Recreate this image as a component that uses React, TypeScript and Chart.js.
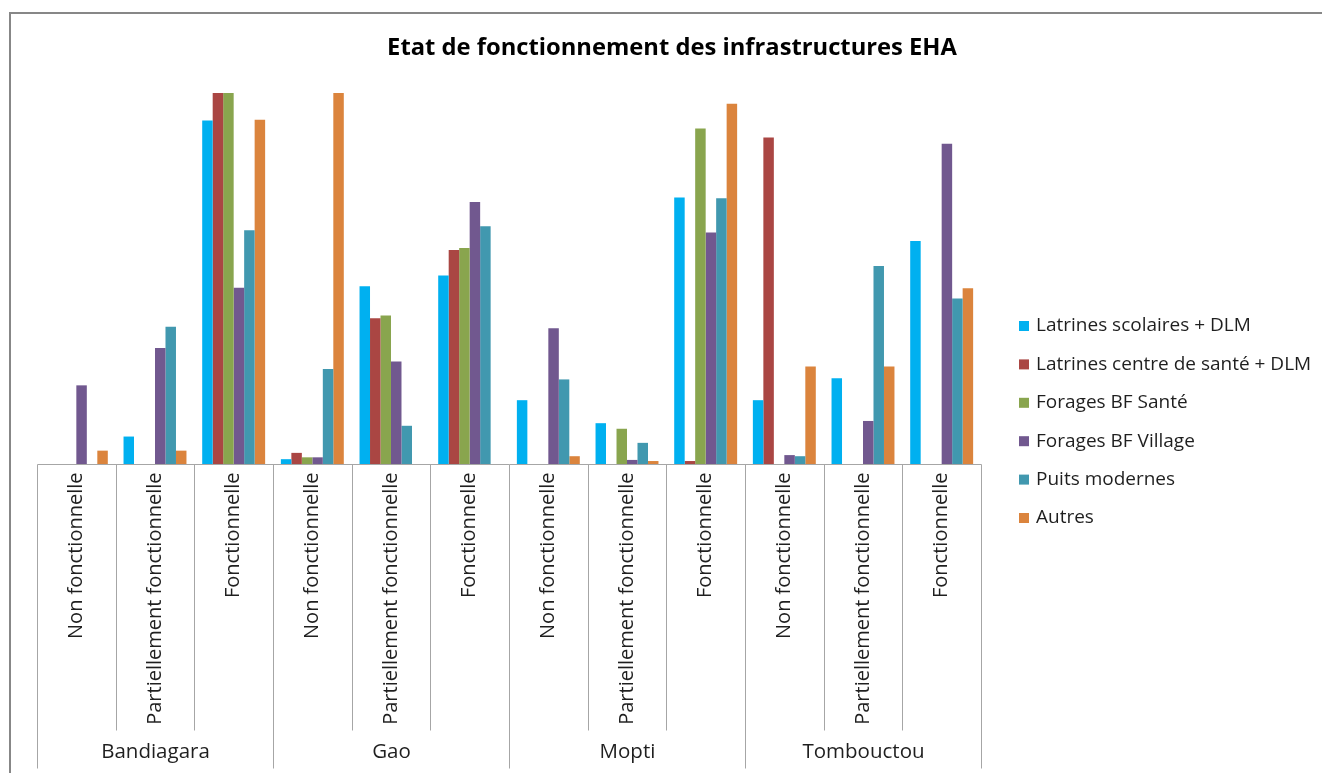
import React, { useEffect, useRef } from "react";
import { Chart, registerables } from "chart.js";

Chart.register(...registerables);

const regions = ["Bandiagara", "Gao", "Mopti", "Tombouctou"];
const statuses = ["Non fonctionnelle", "Partiellement fonctionnelle", "Fonctionnelle"];
const categories: string[] = regions.flatMap((r) => statuses.map((s) => `${r} - ${s}`));

const seriesNames = [
  "Latrines scolaires + DLM",
  "Latrines centre de santé + DLM",
  "Forages BF Santé",
  "Forages BF Village",
  "Puits modernes",
  "Autres",
];
const seriesColors = ["#00B0F0", "#AA4643", "#89A54E", "#71588F", "#4198AF", "#DB843D"];

const latrinesScolaires = [0, 7.4, 92.6, 1.3, 47.9, 50.8, 17.2, 11.0, 71.8, 17.2, 23.1, 60.1];
const latrinesSante = [0, 0, 100, 3.0, 39.3, 57.7, 0, 0, 0.8, 88.0, 0, 0];
const foragesSante = [0, 0, 100, 1.8, 40.0, 58.2, 0, 9.5, 90.4, 0, 0, 0];
const foragesVillage = [21.2, 31.3, 47.5, 1.8, 27.6, 70.6, 36.6, 1.1, 62.4, 2.4, 11.6, 86.3];
const puitsModernes = [0, 37.0, 63.0, 25.6, 10.3, 64.1, 22.8, 5.7, 71.6, 2.1, 53.4, 44.6];
const autres = [3.6, 3.6, 92.8, 100, 0, 0, 2.1, 0.8, 97.1, 26.3, 26.3, 47.4];

const seriesValues = [latrinesScolaires, latrinesSante, foragesSante, foragesVillage, puitsModernes, autres];

const TITLE = "Etat de fonctionnement des infrastructures EHA";
const FONT = "'Open Sans', 'Noto Sans', sans-serif";
const TEXT_COLOR = "#1f1f1f";
const AXIS_COLOR = "#A6A6A6";

const decorPlugin = {
  id: "decor",
  beforeDraw(chart: any) {
    const ctx = chart.ctx;
    ctx.save();
    ctx.fillStyle = "#ffffff";
    ctx.fillRect(0, 0, chart.width, chart.height);
    ctx.strokeStyle = "#878787";
    ctx.lineWidth = 2;
    ctx.strokeRect(10, 13, chart.width + 50, chart.height + 50);
    ctx.restore();
  },
  afterDraw(chart: any) {
    const ctx = chart.ctx;
    const xs = chart.scales.x;
    const ys = chart.scales.y;
    const base = Math.round(ys.getPixelForValue(0)) + 0.5;
    const n = categories.length;
    const centers = categories.map((_, i) => xs.getPixelForValue(i));
    const half = (centers[1] - centers[0]) / 2;
    const bounds: number[] = [];
    for (let i = 0; i <= n; i++) {
      const b = i < n ? centers[i] - half : centers[n - 1] + half;
      bounds.push(Math.round(b) + 0.5);
    }
    ctx.save();
    // axis baseline and separators
    ctx.strokeStyle = AXIS_COLOR;
    ctx.lineWidth = 1;
    ctx.beginPath();
    ctx.moveTo(bounds[0], base);
    ctx.lineTo(bounds[n], base);
    for (let i = 0; i <= n; i++) {
      const major = i % statuses.length === 0;
      ctx.moveTo(bounds[i], base);
      ctx.lineTo(bounds[i], major ? base + 304 : base + 266);
    }
    ctx.stroke();

    // rotated status labels
    ctx.fillStyle = TEXT_COLOR;
    ctx.font = `20px ${FONT}`;
    ctx.textAlign = "right";
    ctx.textBaseline = "middle";
    for (let i = 0; i < n; i++) {
      const label = statuses[i % statuses.length];
      ctx.save();
      ctx.translate(centers[i], base + 8);
      ctx.rotate(-Math.PI / 2);
      ctx.fillText(label, 0, 0);
      ctx.restore();
    }

    // region labels
    ctx.textAlign = "center";
    ctx.font = `20.5px ${FONT}`;
    for (let r = 0; r < regions.length; r++) {
      const l = bounds[r * statuses.length];
      const rr = bounds[(r + 1) * statuses.length];
      ctx.fillText(regions[r], (l + rr) / 2, base + 288);
    }

    // title
    ctx.font = `bold 23.75px ${FONT}`;
    ctx.fillStyle = "#000000";
    ctx.fillText(TITLE, 672, 48);

    // legend
    ctx.font = `19px ${FONT}`;
    ctx.textAlign = "left";
    chart.data.datasets.forEach((ds: any, i: number) => {
      const y = 326 + i * 38.4;
      ctx.fillStyle = ds.backgroundColor;
      ctx.fillRect(1019, y - 5, 10, 10);
      ctx.fillStyle = TEXT_COLOR;
      ctx.fillText(ds.label, 1036, y);
    });
    ctx.restore();
  },
};

export default function App() {
  const ref = useRef<HTMLCanvasElement | null>(null);
  useEffect(() => {
    if (!ref.current) return;
    const chart = new Chart(ref.current, {
      type: "bar",
      data: {
        labels: categories,
        datasets: seriesNames.map((name, i) => ({
          label: name,
          data: seriesValues[i],
          backgroundColor: seriesColors[i],
          borderWidth: 0,
          categoryPercentage: 0.8,
          barPercentage: 1.0,
        })),
      },
      options: {
        responsive: false,
        animation: false,
        layout: { padding: { left: 37, right: 341, top: 93, bottom: 309 } },
        plugins: {
          legend: { display: false },
          title: { display: false },
          tooltip: { enabled: false },
        },
        scales: {
          x: { display: false },
          y: { display: false, min: 0, max: 100 },
        },
      },
      plugins: [decorPlugin],
    });
    return () => chart.destroy();
  }, []);
  return (
    <div style={{ position: "absolute", left: 0, top: 0, width: 1322, height: 773, overflow: "hidden" }}>
      <canvas ref={ref} width={1322} height={773} style={{ display: "block" }} />
    </div>
  );
}
